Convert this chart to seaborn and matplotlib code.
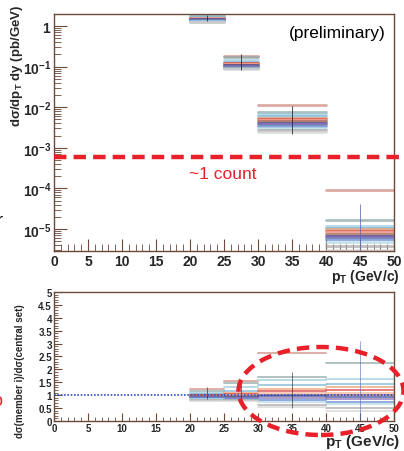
import numpy as np
import pandas as pd
import matplotlib
matplotlib.use("Agg")
import matplotlib.pyplot as plt
import seaborn as sns
from matplotlib.patches import Ellipse
from matplotlib.ticker import MultipleLocator, LogLocator, FuncFormatter, NullFormatter

# ---------------- data ----------------
bin_lo = [20, 25, 30, 40]
bin_hi = [25, 30, 40, 50]
bin_center = [22.5, 27.5, 35, 45]
central_xsec = [1.57, 0.115, 0.0044, 7.5e-6]

member_names = ["m%02d" % i for i in range(14)]
member_colors = ["#d08c84", "#8fa8a8", "#9ccbe0", "#7fb6d4", "#f0a070", "#d8464a",
                 "#f2b49a", "#a0645a", "#3c4c9c", "#8a70b4", "#6088c8", "#b4d8e8",
                 "#a8a8a8", "#d4d4d4"]
ratio_bin1 = [1.25, 1.15, 1.10, 1.05, 1.02, 1.00, 0.98, 0.96, 0.94, 0.92, 0.90, 0.86, 0.82, 0.78]
ratio_bin2 = [1.55, 1.47, 1.30, 1.16, 1.10, 1.05, 1.00, 0.97, 0.93, 0.90, 0.86, 0.82, 0.80, 0.78]
ratio_bin3 = [2.65, 1.70, 1.57, 1.40, 1.25, 1.15, 1.08, 1.02, 0.95, 0.88, 0.80, 0.72, 0.62, 0.55]
ratio_bin4 = [12.0, 2.25, 1.63, 1.43, 1.30, 1.20, 1.10, 1.00, 0.92, 0.85, 0.75, 0.65, 0.50, 0.40]

xsec_err_lo = [1.35, 0.085, 0.0022, 2.9e-6]
xsec_err_hi = [1.85, 0.20, 0.011, 4.2e-5]
ratio_err_lo = [0.85, 0.80, 0.50, 0.0]
ratio_err_hi = [1.30, 1.50, 1.90, 3.10]
err_colors = ["#222222", "#222222", "#222222", "#5a6ab8"]

one_count_level = 5.9e-4
x_ticks = [0, 5, 10, 15, 20, 25, 30, 35, 40, 45, 50]
ratio_ticks = [0, 0.5, 1, 1.5, 2, 2.5, 3, 3.5, 4, 4.5, 5]
ratio_tick_labels = ["0", "0.5", "1", "1.5", "2", "2.5", "3", "3.5", "4", "4.5", "5"]

# ---------------- table ----------------
ratios = [ratio_bin1, ratio_bin2, ratio_bin3, ratio_bin4]
rows = []
for b in range(4):
    for m, name in enumerate(member_names):
        r = ratios[b][m]
        for x in (bin_lo[b], bin_hi[b]):
            rows.append(dict(member=name, seg=f"{name}-{b}", x=x,
                             ratio=r, xsec=central_xsec[b] * r))
df = pd.DataFrame(rows)
palette = dict(zip(member_names, member_colors))

# ---------------- style ----------------
sns.set_style("ticks")
plt.rcParams["font.family"] = ["Liberation Sans", "DejaVu Sans"]
plt.rcParams["mathtext.fontset"] = "custom"
plt.rcParams["mathtext.rm"] = "Liberation Sans"
plt.rcParams["mathtext.bf"] = "Liberation Sans:bold"
plt.rcParams["mathtext.it"] = "Liberation Sans:italic"

frame_col = "#6b4a3a"
fig = plt.figure(figsize=(4.04, 4.52), dpi=100)
ax1 = fig.add_axes([0.1337, 0.4425, 0.8416, 0.5243])
ax2 = fig.add_axes([0.1337, 0.0664, 0.8416, 0.2854])

# ---- top panel ----
sns.lineplot(data=df, x="x", y="xsec", hue="member", units="seg", estimator=None,
             palette=palette, legend=False, ax=ax1, lw=2.0, alpha=0.75, sort=False)
ax1.vlines(bin_center, xsec_err_lo, xsec_err_hi, colors=err_colors, lw=0.7, alpha=0.8)
ax1.set_yscale("log")
ax1.set_ylim(2.88e-6, 1.98)
ax1.set_xlim(0, 50)
ax1.axhline(one_count_level, xmin=0, xmax=1.03, color="#e8202a", lw=3.2,
            ls=(0, (2.8, 1.6)), clip_on=False, zorder=5)
ax1.text(0.497, 0.325, "~1 count", transform=ax1.transAxes, color="#e8202a",
         fontsize=12.5, ha="center", va="center")
ax1.text(0.975, 0.955, "(preliminary)", transform=ax1.transAxes, color="black",
         fontsize=12.5, ha="right", va="top")


def logfmt(v, pos):
    e = int(round(np.log10(v)))
    if e == 0:
        return r"$\mathbf{1}$"
    return r"$\mathbf{10^{%d}}$" % e


ax1.yaxis.set_major_locator(LogLocator(base=10, numticks=10))
ax1.yaxis.set_minor_locator(LogLocator(base=10, subs=np.arange(2, 10), numticks=10))
ax1.yaxis.set_major_formatter(FuncFormatter(logfmt))
ax1.yaxis.set_minor_formatter(NullFormatter())
ax1.set_xticks(x_ticks)
ax1.set_xticklabels([str(t) for t in x_ticks], fontweight="bold")
ax1.xaxis.set_minor_locator(MultipleLocator(1))
ax1.set_xlabel("")
ax1.set_ylabel("")

# ---- bottom panel ----
sns.lineplot(data=df, x="x", y="ratio", hue="member", units="seg", estimator=None,
             palette=palette, legend=False, ax=ax2, lw=1.4, alpha=0.7, sort=False)
ax2.vlines(bin_center, ratio_err_lo, ratio_err_hi, colors=err_colors, lw=0.6, alpha=0.7)
ax2.axhline(1.0, color="#3050c0", lw=1.2, ls=(0, (1, 1)), zorder=4)
ax2.set_xlim(0, 50)
ax2.set_ylim(0, 5)
ax2.set_yticks(ratio_ticks)
ax2.set_yticklabels(ratio_tick_labels, fontweight="bold", fontsize=7)
ax2.yaxis.set_minor_locator(MultipleLocator(0.1))
ax2.set_xticks(x_ticks)
ax2.set_xticklabels([str(t) for t in x_ticks], fontweight="bold", fontsize=7)
ax2.xaxis.set_minor_locator(MultipleLocator(1))
ax2.set_xlabel("")
ax2.set_ylabel("")

for ax, big in ((ax1, True), (ax2, False)):
    for s in ax.spines.values():
        s.set_visible(True)
        s.set_color(frame_col)
        s.set_linewidth(1.0)
    ax.tick_params(which="major", direction="in", length=9 if big else 6,
                   color=frame_col, width=0.8, top=False, right=False,
                   labelsize=10 if big else 7, pad=2 if big else 1.5)
    ax.tick_params(which="minor", direction="in", length=5 if big else 3,
                   color=frame_col, width=0.6, top=False, right=False)
for lab in ax1.get_xticklabels():
    lab.set_fontweight("bold")

# axis titles
fig.text(0.042, 0.855, r"dσ/dp$_\mathbf{T}$ dy (pb/GeV)", rotation=90,
         fontsize=9.5, fontweight="bold", ha="center", va="center")
fig.text(0.99, 1 - 277 / 452, r"p$_\mathbf{T}$ (GeV/c)", fontsize=10,
         fontweight="bold", ha="right", va="center")
fig.text(0.05, 0.18, "dσ(member i)/dσ(central set)", rotation=90,
         fontsize=7, fontweight="bold", ha="center", va="center")
fig.text(0.99, 1 - 442 / 452, r"p$_\mathbf{T}$ (GeV/c)", fontsize=11,
         fontweight="bold", ha="right", va="center")

# slide annotations
ell = Ellipse((321 / 404, 1 - 392 / 452), 165 / 404, 88 / 452, transform=fig.transFigure,
              fill=False, edgecolor="#e8202a", lw=3.2, ls=(0, (2.8, 1.6)), zorder=10)
fig.add_artist(ell)
fig.text(-0.008, 1 - 222 / 452, "r", fontsize=13, color="black", ha="left", va="center")
fig.text(-0.02, 1 - 402 / 452, "o", fontsize=13, color="#e8202a", ha="left", va="center")

fig.savefig("out.png", dpi=100)
